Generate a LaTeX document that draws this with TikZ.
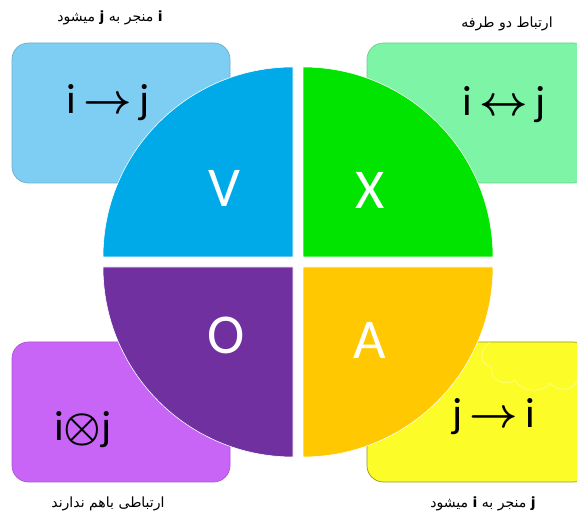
\RequirePackage{fix-cm}
\documentclass[tikz,border=0pt]{standalone}
\usepackage{fontspec}
\usepackage{xcolor}
\usepackage{tikz}
\usetikzlibrary{positioning}
\TeXXeTstate=1
\setmainfont{Carlito}
\newfontfamily\arabicfont[Script=Arabic]{DejaVu Sans}
\definecolor{relblue}{HTML}{7ECDF2}
\definecolor{relbluedk}{HTML}{00AAE9}
\definecolor{relgreen}{HTML}{7EF4A6}
\definecolor{relgreendk}{HTML}{00E400}
\definecolor{relviolet}{HTML}{C865F7}
\definecolor{relvioletdk}{HTML}{7030A0}
\definecolor{relyellow}{HTML}{FCFC28}
\definecolor{relyellowdk}{HTML}{FFC800}
\tikzset{
  relbox/.style={rounded corners=14pt, line width=0.6pt},
  quarter/.style={draw=white, line width=0.5pt},
  bigletter/.style={text=white, font=\fontsize{48}{50}\selectfont, inner sep=0pt},
  relation/.style={text=black, font=\fontsize{36}{40}\selectfont\boldmath, inner sep=0pt},
  caption/.style={font=\arabicfont\fontsize{12}{14}\selectfont, inner sep=0pt}
}
\begin{document}
\begin{tikzpicture}[x=0.03cm, y=0.03cm]
    \useasboundingbox (0,0) rectangle (577,515);

    % boxes behind the circle
    \draw[relbox, fill=relblue, draw=relblue!85!black] (12,332) rectangle (230,472);
    \draw[relbox, fill=relgreen, draw=relgreen!85!black] (367,332) rectangle (590,472);
    \draw[relbox, fill=relviolet, draw=relviolet!85!black] (12,33) rectangle (230,173);
    \draw[relbox, fill=relyellow, draw=relyellow!60!black] (367,33) rectangle (590,173);
    \draw[white, opacity=0.5, line width=0.5pt]
      (490,173) .. controls (478,165) and (480,150) .. (492,148)
      .. controls (488,135) and (505,128) .. (515,135)
      .. controls (522,122) and (545,122) .. (550,132)
      .. controls (558,122) and (575,125) .. (577,135);

    % the four quarters
    \fill[quarter, fill=relbluedk] (293,258) -- ++(-190,0) arc[start angle=180, end angle=90, radius=190] -- cycle;
    \fill[quarter, fill=relgreendk] (303,258) -- ++(190,0) arc[start angle=0, end angle=90, radius=190] -- cycle;
    \fill[quarter, fill=relvioletdk] (293,248) -- ++(-190,0) arc[start angle=180, end angle=270, radius=190] -- cycle;
    \fill[quarter, fill=relyellowdk] (303,248) -- ++(190,0) arc[start angle=0, end angle=-90, radius=190] -- cycle;

    \node[bigletter] (V) at (224,327) {V};
    \node[bigletter] (X) at (370,325) {X};
    \node[bigletter] (O) at (226,180) {O};
    \node[bigletter] (A) at (370,175) {A};

    \node[relation] (ij) at (108,412) {i\,$\rightarrow$\,j};
    \node[relation] (ijboth) at (504,410) {i\,$\leftrightarrow$\,j};
    \node[relation] (inot) at (83,85) {i$\otimes$j};
    \node[relation] (ji) at (494,98) {j\,$\rightarrow$\,i};

    \node[caption] (capV) at (110,497) {\beginR{\bfseries i} منجر به {\bfseries j} میشود\endR};
    \node[caption] (capX) at (507,491) {\beginR ارتباط دو طرفه\endR};
    \node[caption] (capO) at (108,11) {\beginR ارتباطی باهم ندارند\endR};
    \node[caption] (capA) at (483,11) {\beginR{\bfseries j} منجر به {\bfseries i} میشود\endR};
\end{tikzpicture}
\end{document}
